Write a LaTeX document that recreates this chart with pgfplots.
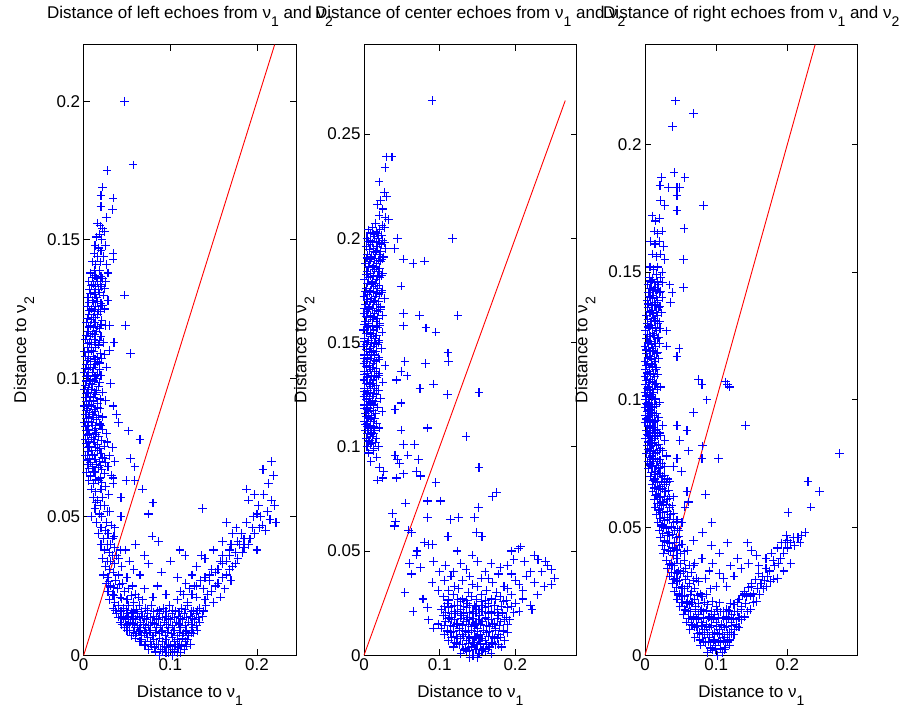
\documentclass[border=0pt]{standalone}
\usepackage{fontspec}
\setmainfont{Liberation Sans}
\usepackage{pgfplots}
\pgfplotsset{compat=1.18}
\definecolor{mblue}{RGB}{0,0,255}
\definecolor{mred}{RGB}{255,0,0}
\newcommand\sub[1]{\raisebox{-8pt}{\fontsize{14}{14}\selectfont #1}}
\newcommand\ff{\fontsize{17}{20}\selectfont}
\pgfplotsset{
  mat/.style={
    scale only axis, width=212.6pt, height=610.6pt, anchor=south west,
    xmin=0, ymin=0,
    axis line style={line width=0.9pt},
    tick style={black, line width=0.8pt},
    major tick length=6pt, tick align=inside,
    xtick={0,0.1,0.2}, xticklabels={0,0.1,0.2},
    ticklabel style={font=\ff},
    /pgf/number format/assume math mode=true,
    title style={at={(axis description cs:0.5,1.03275)}, anchor=base, font=\ff, inner sep=0pt},
    xlabel style={at={(axis description cs:0.5,-0.0688)}, anchor=base, font=\ff, inner sep=0pt},
    ylabel style={at={(axis description cs:-0.2714,0.5)}, anchor=base, font=\ff, inner sep=0pt},
    xlabel={Distance to ν\sub{1}}, ylabel={Distance to ν\sub{2}},
    clip=false,
  },
  pts/.style={only marks, mark=+, mark size=4.3pt, mblue, mark options={mblue, line width=1.1pt}},
  diag/.style={mred, line width=0.9pt, no marks},
}
\begin{document}
\begin{tikzpicture}
\useasboundingbox (0,0) rectangle (909pt,711pt);
% ---------------- left ----------------
\begin{axis}[mat, at={(83.7pt,55.7pt)}, xmax=0.2454, ymax=0.2204,
  ytick={0,0.05,0.1,0.15,0.2}, yticklabels={0,0.05,0.1,0.15,0.2},
  title={Distance of left echoes from ν\sub{1} and ν\sub{2}}]
\addplot[pts] coordinates {
(0.047,0.200)(0.057,0.177)(0.027,0.175)(0.022,0.169)(0.020,0.166)(0.034,0.165)(0.020,0.162)(0.033,0.161)(0.047,0.130)(0.048,0.119)(0.054,0.109)(0.030,0.119)(0.035,0.113)(0.034,0.145)(0.034,0.143)(0.026,0.158)
(0.016,0.156)(0.019,0.155)(0.022,0.154)(0.018,0.152)(0.015,0.151)(0.024,0.153)(0.021,0.150)(0.013,0.148)(0.017,0.147)(0.025,0.148)(0.012,0.145)(0.020,0.146)(0.016,0.144)(0.023,0.144)(0.010,0.142)(0.014,0.141)(0.019,0.142)(0.026,0.141)(0.028,0.138)(0.012,0.139)
(0.008,0.138)(0.013,0.137)(0.018,0.139)(0.022,0.136)
(0.006,0.135)(0.011,0.134)(0.016,0.135)(0.021,0.133)(0.025,0.135)
(0.007,0.132)(0.012,0.131)(0.017,0.132)(0.023,0.130)
(0.005,0.129)(0.010,0.128)(0.015,0.129)(0.020,0.127)(0.028,0.128)
(0.004,0.126)(0.009,0.125)(0.014,0.126)(0.019,0.124)(0.024,0.125)
(0.006,0.123)(0.011,0.122)(0.016,0.123)(0.021,0.121)
(0.003,0.120)(0.008,0.119)(0.013,0.120)(0.018,0.118)(0.025,0.119)
(0.005,0.117)(0.010,0.116)(0.015,0.117)(0.020,0.115)
(0.002,0.114)(0.007,0.113)(0.012,0.114)(0.017,0.112)(0.023,0.113)
(0.004,0.111)(0.009,0.110)(0.014,0.111)(0.019,0.109)(0.030,0.110)
(0.002,0.108)(0.006,0.107)(0.011,0.108)(0.016,0.106)(0.021,0.107)
(0.003,0.105)(0.008,0.104)(0.013,0.105)(0.018,0.103)(0.026,0.104)
(0.001,0.102)(0.005,0.101)(0.010,0.102)(0.015,0.100)(0.020,0.101)
(0.003,0.099)(0.007,0.098)(0.012,0.099)(0.017,0.097)(0.031,0.098)
(0.001,0.096)(0.005,0.095)(0.009,0.096)(0.014,0.094)(0.022,0.095)
(0.002,0.093)(0.007,0.092)(0.011,0.093)(0.016,0.091)(0.025,0.092)
(0.001,0.090)(0.004,0.089)(0.009,0.090)(0.013,0.088)(0.019,0.089)(0.034,0.090)
(0.002,0.087)(0.006,0.086)(0.010,0.087)(0.015,0.085)(0.022,0.086)(0.038,0.087)
(0.001,0.084)(0.004,0.083)(0.009,0.084)(0.014,0.082)(0.020,0.083)(0.040,0.084)
(0.003,0.081)(0.007,0.080)(0.012,0.081)(0.017,0.079)(0.026,0.080)
(0.002,0.078)(0.006,0.077)(0.011,0.078)(0.016,0.076)(0.027,0.077)(0.033,0.075)
(0.004,0.075)(0.009,0.074)(0.014,0.075)(0.020,0.073)(0.030,0.072)
(0.002,0.072)(0.007,0.071)(0.012,0.072)(0.018,0.070)(0.024,0.071)(0.036,0.070)
(0.005,0.069)(0.010,0.068)(0.015,0.069)(0.021,0.067)(0.028,0.068)
(0.003,0.066)(0.008,0.065)(0.013,0.066)(0.019,0.064)(0.032,0.065)
(0.006,0.063)(0.011,0.062)(0.017,0.063)(0.025,0.061)(0.034,0.062)
(0.009,0.060)(0.014,0.059)(0.020,0.060)(0.029,0.058)
(0.010,0.1365)(0.015,0.1362)(0.020,0.1368)
(0.009,0.1335)(0.014,0.1332)(0.019,0.1338)(0.024,0.1325)
(0.008,0.1305)(0.013,0.1302)(0.018,0.1308)
(0.006,0.1275)(0.011,0.1272)(0.016,0.1278)(0.022,0.1262)
(0.007,0.1245)(0.012,0.1242)(0.017,0.1248)
(0.004,0.1215)(0.009,0.1212)(0.014,0.1218)(0.020,0.1195)
(0.006,0.1185)(0.011,0.1182)(0.016,0.1188)
(0.003,0.1155)(0.008,0.1152)(0.013,0.1158)(0.018,0.1135)
(0.004,0.1125)(0.009,0.1122)(0.014,0.1128)
(0.001,0.1095)(0.006,0.1092)(0.011,0.1098)(0.016,0.1075)(0.024,0.1085)
(0.004,0.1065)(0.008,0.1062)(0.013,0.1068)(0.018,0.1055)
(0.002,0.1035)(0.006,0.1032)(0.011,0.1038)(0.016,0.1015)
(0.003,0.1005)(0.008,0.0995)(0.013,0.1008)(0.018,0.0985)
(0.002,0.0975)(0.006,0.0965)(0.010,0.0978)(0.015,0.0955)
(0.003,0.0945)(0.008,0.0935)(0.012,0.0948)(0.019,0.0925)
(0.003,0.0915)(0.006,0.0905)(0.011,0.0918)(0.016,0.0895)
(0.003,0.0885)(0.007,0.0875)(0.012,0.0888)(0.017,0.0865)
(0.003,0.0855)(0.006,0.0845)(0.011,0.0858)(0.018,0.0835)
(0.002,0.0825)(0.006,0.0815)(0.010,0.0828)(0.015,0.0805)(0.022,0.0815)
(0.004,0.0795)(0.009,0.0785)(0.014,0.0798)(0.021,0.0775)
(0.003,0.0765)(0.007,0.0755)(0.012,0.0768)(0.018,0.0745)(0.024,0.0755)
(0.005,0.0735)(0.010,0.0725)(0.016,0.0738)(0.022,0.0715)
(0.004,0.0705)(0.008,0.0695)(0.013,0.0708)(0.019,0.0685)(0.025,0.0695)
(0.006,0.0675)(0.011,0.0665)(0.017,0.0678)(0.024,0.0655)
(0.008,0.0645)(0.014,0.0635)(0.021,0.0625)
(0.052,0.081)(0.065,0.078)(0.038,0.087)(0.054,0.071)(0.059,0.068)(0.059,0.063)(0.049,0.063)(0.068,0.060)(0.034,0.064)(0.043,0.057)
(0.011,0.057)(0.016,0.056)(0.022,0.057)(0.013,0.053)(0.018,0.051)(0.009,0.050)(0.015,0.048)(0.024,0.054)(0.030,0.052)(0.020,0.046)(0.026,0.048)(0.017,0.044)(0.023,0.042)(0.028,0.044)(0.031,0.040)(0.036,0.046)(0.043,0.050)(0.080,0.055)(0.075,0.051)(0.079,0.043)(0.086,0.041)(0.111,0.038)(0.117,0.036)(0.136,0.036)(0.137,0.053)(0.042,0.038)(0.060,0.040)
(0.027,0.040)(0.033,0.042)(0.020,0.040)(0.025,0.045)(0.032,0.047)(0.021,0.050)(0.027,0.052)(0.019,0.054)(0.014,0.055)(0.035,0.043)(0.038,0.036)(0.031,0.034)(0.029,0.0265)(0.034,0.0245)(0.041,0.0255)(0.052,0.024)(0.035,0.0215)(0.044,0.0205)(0.055,0.0215)(0.063,0.021)
(0.207,0.067)(0.217,0.070)(0.219,0.065)(0.188,0.060)(0.197,0.058)(0.190,0.056)(0.217,0.056)(0.220,0.054)(0.215,0.049)(0.222,0.048)(0.200,0.051)(0.204,0.050)(0.206,0.047)(0.165,0.048)(0.172,0.044)(0.185,0.042)(0.192,0.042)(0.200,0.038)(0.210,0.045)(0.195,0.046)(0.180,0.040)(0.176,0.046)(0.160,0.041)(0.168,0.038)(0.212,0.052)
(0.160,0.036)(0.170,0.040)(0.182,0.044)(0.188,0.048)(0.196,0.050)(0.202,0.054)(0.208,0.058)(0.213,0.062)(0.178,0.041)(0.165,0.034)(0.155,0.031)(0.145,0.029)(0.135,0.027)(0.128,0.025)(0.122,0.024)(0.115,0.022)(0.143,0.022)(0.152,0.025)(0.160,0.028)(0.168,0.031)(0.175,0.033)(0.183,0.037)(0.190,0.040)(0.197,0.044)(0.203,0.046)
(0.024,0.038)(0.030,0.037)(0.036,0.039)(0.048,0.038)
(0.022,0.035)(0.027,0.034)(0.033,0.036)(0.040,0.035)(0.053,0.034)
(0.025,0.032)(0.030,0.031)(0.036,0.033)(0.044,0.032)(0.058,0.031)
(0.023,0.029)(0.028,0.028)(0.034,0.030)(0.040,0.029)(0.050,0.028)(0.065,0.029)
(0.026,0.026)(0.031,0.025)(0.037,0.027)(0.045,0.026)(0.056,0.025)
(0.028,0.023)(0.033,0.022)(0.039,0.024)(0.047,0.023)(0.060,0.022)(0.070,0.024)
(0.030,0.020)(0.036,0.019)(0.042,0.021)(0.050,0.020)(0.058,0.019)(0.068,0.020)
(0.150,0.038)(0.175,0.037)(0.185,0.039)
(0.140,0.035)(0.158,0.034)(0.168,0.036)(0.178,0.035)
(0.130,0.032)(0.148,0.031)(0.160,0.033)(0.172,0.032)
(0.125,0.029)(0.140,0.028)(0.152,0.030)(0.165,0.029)(0.170,0.027)
(0.118,0.026)(0.130,0.025)(0.145,0.027)(0.155,0.026)(0.163,0.024)
(0.112,0.023)(0.125,0.022)(0.138,0.024)(0.148,0.023)(0.158,0.021)
(0.108,0.020)(0.120,0.019)(0.130,0.021)(0.140,0.020)(0.150,0.019)
(0.075,0.033)(0.090,0.030)(0.100,0.034)(0.085,0.025)(0.095,0.022)(0.080,0.021)(0.108,0.028)(0.070,0.036)
(0.034,0.017)(0.040,0.018)(0.046,0.017)(0.052,0.018)(0.058,0.016)(0.064,0.018)(0.071,0.017)(0.078,0.018)(0.085,0.016)(0.092,0.017)(0.099,0.018)(0.106,0.016)(0.113,0.017)(0.120,0.018)(0.127,0.016)(0.134,0.017)(0.141,0.018)
(0.038,0.015)(0.044,0.014)(0.050,0.015)(0.056,0.014)(0.062,0.015)(0.068,0.014)(0.074,0.015)(0.081,0.014)(0.088,0.015)(0.095,0.014)(0.102,0.015)(0.109,0.014)(0.116,0.015)(0.123,0.014)(0.130,0.015)(0.137,0.014)
(0.042,0.012)(0.048,0.013)(0.054,0.012)(0.060,0.013)(0.066,0.012)(0.072,0.013)(0.079,0.012)(0.086,0.013)(0.093,0.012)(0.100,0.013)(0.107,0.012)(0.114,0.013)(0.121,0.012)(0.128,0.013)(0.134,0.012)
(0.047,0.010)(0.053,0.009)(0.059,0.010)(0.065,0.009)(0.071,0.010)(0.077,0.009)(0.084,0.010)(0.091,0.009)(0.098,0.010)(0.105,0.009)(0.112,0.010)(0.119,0.009)(0.126,0.010)(0.131,0.009)
(0.055,0.007)(0.061,0.008)(0.067,0.007)(0.073,0.008)(0.080,0.007)(0.087,0.008)(0.094,0.007)(0.101,0.008)(0.108,0.007)(0.115,0.008)(0.121,0.007)(0.127,0.008)
(0.065,0.005)(0.071,0.004)(0.077,0.005)(0.084,0.004)(0.091,0.005)(0.098,0.004)(0.105,0.005)(0.111,0.004)(0.117,0.005)(0.123,0.004)
(0.075,0.002)(0.082,0.003)(0.089,0.002)(0.096,0.003)(0.103,0.002)(0.109,0.003)(0.116,0.002)
(0.088,0.000)(0.095,0.001)(0.102,0.000)(0.108,0.001)
(0.037,0.0163)(0.043,0.0158)(0.049,0.0162)(0.055,0.0155)(0.061,0.0165)(0.067,0.0158)(0.074,0.0162)(0.081,0.0157)(0.088,0.0164)(0.095,0.0158)(0.102,0.0162)(0.110,0.0157)(0.117,0.0165)(0.124,0.0158)(0.131,0.0162)(0.138,0.0160)
(0.040,0.0138)(0.046,0.0133)(0.052,0.0137)(0.058,0.0132)(0.064,0.0138)(0.070,0.0132)(0.077,0.0137)(0.084,0.0133)(0.091,0.0138)(0.098,0.0132)(0.105,0.0137)(0.112,0.0133)(0.119,0.0138)(0.126,0.0132)(0.132,0.0137)
(0.044,0.0112)(0.050,0.0108)(0.056,0.0113)(0.062,0.0107)(0.069,0.0112)(0.075,0.0108)(0.082,0.0113)(0.089,0.0107)(0.096,0.0112)(0.103,0.0108)(0.110,0.0113)(0.117,0.0107)(0.124,0.0112)(0.130,0.0108)
(0.050,0.0088)(0.057,0.0083)(0.063,0.0087)(0.070,0.0082)(0.076,0.0088)(0.083,0.0082)(0.090,0.0087)(0.097,0.0083)(0.104,0.0088)(0.111,0.0082)(0.118,0.0087)(0.124,0.0083)
(0.060,0.0062)(0.067,0.0058)(0.074,0.0063)(0.081,0.0057)(0.088,0.0062)(0.095,0.0058)(0.102,0.0063)(0.108,0.0057)(0.114,0.0062)(0.120,0.0058)
(0.070,0.0037)(0.078,0.0033)(0.086,0.0038)(0.093,0.0032)(0.100,0.0037)(0.106,0.0033)(0.113,0.0037)(0.119,0.0033)
(0.083,0.0012)(0.091,0.0015)(0.098,0.0010)(0.105,0.0014)(0.112,0.0010)
};
\addplot[diag] coordinates {(0,0)(0.2204,0.2204)};
\end{axis}
% ---------------- center ----------------
\begin{axis}[mat, at={(364pt,55.7pt)}, xmax=0.281, ymax=0.2928,
  ytick={0,0.05,0.1,0.15,0.2,0.25}, yticklabels={0,0.05,0.1,0.15,0.2,0.25},
  title={Distance of center echoes from ν\sub{1} and ν\sub{2}}]
\addplot[pts] coordinates {
(0.090,0.266)(0.030,0.239)(0.037,0.239)(0.028,0.234)(0.020,0.227)(0.027,0.222)(0.030,0.220)(0.022,0.218)(0.018,0.216)(0.025,0.214)(0.020,0.211)(0.028,0.210)(0.032,0.209)(0.015,0.207)(0.024,0.206)
(0.006,0.204)(0.011,0.205)(0.016,0.203)(0.021,0.204)(0.027,0.205)
(0.004,0.200)(0.009,0.199)(0.014,0.201)(0.019,0.200)(0.025,0.199)
(0.003,0.196)(0.008,0.197)(0.013,0.195)(0.018,0.196)(0.023,0.197)(0.029,0.195)
(0.005,0.192)(0.010,0.191)(0.015,0.193)(0.020,0.192)(0.026,0.191)
(0.002,0.188)(0.007,0.189)(0.012,0.187)(0.017,0.188)(0.022,0.189)
(0.004,0.184)(0.009,0.183)(0.014,0.185)(0.019,0.184)(0.025,0.183)
(0.001,0.180)(0.006,0.181)(0.011,0.179)(0.016,0.180)(0.021,0.181)
(0.003,0.176)(0.008,0.175)(0.013,0.177)(0.018,0.176)(0.024,0.175)
(0.000,0.172)(0.005,0.173)(0.010,0.171)(0.015,0.172)(0.020,0.173)(0.027,0.171)
(0.002,0.168)(0.007,0.167)(0.012,0.169)(0.017,0.168)(0.022,0.167)
(0.000,0.164)(0.004,0.165)(0.009,0.163)(0.014,0.164)(0.019,0.165)(0.025,0.163)
(0.002,0.160)(0.006,0.159)(0.011,0.161)(0.016,0.160)(0.021,0.159)
(-0.001,0.156)(0.004,0.157)(0.008,0.155)(0.013,0.156)(0.018,0.157)(0.024,0.155)
(0.001,0.152)(0.006,0.151)(0.010,0.153)(0.015,0.152)(0.020,0.151)
(-0.001,0.148)(0.003,0.149)(0.008,0.147)(0.012,0.148)(0.017,0.149)(0.023,0.147)
(0.001,0.144)(0.005,0.143)(0.010,0.145)(0.014,0.144)(0.019,0.143)
(0.000,0.140)(0.003,0.141)(0.007,0.139)(0.012,0.140)(0.016,0.141)(0.028,0.139)
(0.001,0.136)(0.005,0.135)(0.009,0.137)(0.014,0.136)(0.020,0.135)
(0.000,0.132)(0.004,0.133)(0.008,0.131)(0.012,0.132)(0.017,0.133)(0.025,0.131)
(0.001,0.128)(0.005,0.127)(0.009,0.129)(0.014,0.128)(0.019,0.127)
(0.000,0.124)(0.003,0.125)(0.007,0.123)(0.011,0.124)(0.016,0.125)(0.022,0.123)
(0.001,0.120)(0.005,0.119)(0.009,0.121)(0.013,0.120)(0.018,0.119)
(0.002,0.116)(0.006,0.117)(0.010,0.115)(0.015,0.116)(0.024,0.117)
(0.001,0.112)(0.004,0.111)(0.008,0.113)(0.012,0.112)(0.017,0.111)
(0.002,0.108)(0.006,0.109)(0.010,0.107)(0.014,0.108)(0.020,0.109)
(0.003,0.104)(0.007,0.103)(0.011,0.105)(0.016,0.104)
(0.004,0.100)(0.008,0.101)(0.013,0.099)(0.019,0.100)
(0.006,0.097)(0.012,0.098)(0.017,0.095)(0.009,0.093)
(0.008,0.2025)(0.013,0.2018)(0.018,0.2022)(0.023,0.2015)
(0.006,0.1985)(0.011,0.1978)(0.016,0.1982)(0.021,0.1975)(0.027,0.1980)
(0.007,0.1945)(0.012,0.1938)(0.017,0.1942)(0.022,0.1935)
(0.004,0.1905)(0.009,0.1898)(0.014,0.1902)(0.019,0.1895)(0.024,0.1900)
(0.006,0.1865)(0.011,0.1858)(0.016,0.1862)(0.021,0.1855)
(0.003,0.1825)(0.008,0.1818)(0.013,0.1822)(0.018,0.1815)(0.023,0.1820)
(0.005,0.1785)(0.010,0.1778)(0.015,0.1782)(0.020,0.1775)
(0.002,0.1745)(0.007,0.1738)(0.012,0.1742)(0.017,0.1735)(0.023,0.1740)
(0.004,0.1705)(0.009,0.1698)(0.014,0.1702)(0.019,0.1695)
(0.001,0.1665)(0.006,0.1658)(0.011,0.1662)(0.016,0.1655)(0.022,0.1660)
(0.003,0.1625)(0.008,0.1618)(0.013,0.1622)(0.018,0.1615)
(0.001,0.1585)(0.006,0.1578)(0.011,0.1582)(0.016,0.1575)(0.021,0.1580)
(0.003,0.1545)(0.008,0.1538)(0.012,0.1542)(0.017,0.1535)
(0.001,0.1505)(0.005,0.1498)(0.010,0.1502)(0.014,0.1495)(0.019,0.1500)
(0.003,0.1465)(0.007,0.1458)(0.012,0.1462)(0.016,0.1455)
(0.001,0.1425)(0.005,0.1418)(0.009,0.1422)(0.014,0.1415)(0.020,0.1420)
(0.003,0.1385)(0.007,0.1378)(0.011,0.1382)(0.016,0.1375)
(0.001,0.1345)(0.005,0.1338)(0.010,0.1342)(0.014,0.1335)(0.019,0.1340)
(0.003,0.1305)(0.007,0.1298)(0.011,0.1302)(0.016,0.1295)
(0.001,0.1265)(0.005,0.1258)(0.009,0.1262)(0.013,0.1255)
(0.003,0.1225)(0.007,0.1218)(0.011,0.1222)(0.015,0.1215)
(0.001,0.1185)(0.004,0.1178)(0.008,0.1182)(0.012,0.1175)
(0.003,0.1145)(0.006,0.1138)(0.010,0.1142)(0.014,0.1135)
(0.002,0.1105)(0.005,0.1098)(0.009,0.1102)(0.013,0.1095)
(0.005,0.1065)(0.009,0.1058)(0.013,0.1062)
(0.006,0.1025)(0.010,0.1018)(0.015,0.1022)
(0.044,0.200)(0.040,0.195)(0.052,0.190)(0.065,0.188)(0.080,0.189)(0.117,0.200)(0.049,0.177)(0.052,0.164)(0.073,0.163)(0.124,0.163)(0.052,0.158)(0.082,0.157)(0.095,0.155)(0.111,0.145)(0.112,0.141)(0.081,0.140)(0.054,0.141)(0.049,0.136)(0.057,0.134)(0.043,0.132)(0.092,0.130)(0.074,0.128)(0.110,0.125)(0.152,0.126)(0.049,0.121)(0.041,0.118)(0.084,0.109)(0.135,0.105)(0.049,0.108)(0.067,0.101)(0.052,0.101)(0.058,0.096)(0.072,0.094)(0.041,0.096)(0.044,0.094)(0.047,0.092)(0.069,0.088)(0.075,0.086)(0.052,0.087)(0.043,0.085)(0.020,0.090)(0.026,0.088)(0.018,0.084)(0.025,0.085)(0.152,0.090)(0.095,0.083)(0.055,0.073)(0.084,0.074)(0.101,0.074)(0.151,0.071)(0.170,0.076)(0.175,0.078)(0.038,0.068)(0.042,0.064)(0.084,0.066)(0.114,0.065)(0.125,0.066)(0.146,0.066)(0.040,0.062)(0.059,0.060)(0.063,0.059)(0.149,0.059)(0.156,0.057)(0.111,0.057)(0.070,0.050)(0.069,0.048)(0.080,0.054)(0.085,0.053)(0.091,0.053)(0.123,0.050)(0.143,0.048)(0.195,0.050)(0.204,0.051)(0.207,0.052)(0.225,0.048)
(0.063,0.039)(0.054,0.030)(0.065,0.021)(0.084,0.023)(0.060,0.044)(0.075,0.042)(0.092,0.045)(0.100,0.040)(0.108,0.043)(0.115,0.038)(0.128,0.044)(0.135,0.041)(0.150,0.045)(0.160,0.040)(0.168,0.044)(0.178,0.039)(0.190,0.043)(0.198,0.046)(0.212,0.045)(0.220,0.040)(0.230,0.046)(0.240,0.045)(0.248,0.041)(0.248,0.034)(0.252,0.037)(0.229,0.029)(0.220,0.024)(0.222,0.022)(0.238,0.033)(0.090,0.035)(0.098,0.031)(0.106,0.036)(0.120,0.033)(0.130,0.036)(0.143,0.034)(0.155,0.037)(0.170,0.035)(0.185,0.033)(0.200,0.036)(0.210,0.031)(0.085,0.017)(0.092,0.013)(0.098,0.015)(0.078,0.027)
(0.112,0.031)(0.125,0.032)(0.138,0.030)(0.150,0.033)(0.162,0.031)(0.175,0.030)(0.190,0.032)(0.205,0.034)(0.215,0.038)(0.225,0.035)(0.235,0.040)(0.242,0.043)(0.118,0.040)(0.140,0.038)(0.165,0.037)(0.180,0.042)(0.195,0.039)
(0.105,0.028)(0.118,0.029)(0.130,0.027)(0.142,0.028)(0.155,0.029)(0.168,0.027)(0.180,0.028)(0.195,0.029)(0.210,0.027)
(0.110,0.025)(0.120,0.024)(0.128,0.026)(0.137,0.025)(0.146,0.024)(0.155,0.026)(0.164,0.025)(0.173,0.024)(0.184,0.026)(0.200,0.025)
(0.102,0.022)(0.112,0.023)(0.120,0.021)(0.128,0.022)(0.136,0.023)(0.144,0.021)(0.152,0.022)(0.160,0.023)(0.168,0.021)(0.177,0.022)(0.190,0.023)(0.205,0.021)
(0.105,0.019)(0.113,0.018)(0.121,0.020)(0.129,0.019)(0.137,0.018)(0.145,0.020)(0.153,0.019)(0.161,0.018)(0.169,0.020)(0.178,0.019)(0.188,0.018)
(0.108,0.016)(0.116,0.017)(0.124,0.015)(0.132,0.016)(0.140,0.017)(0.148,0.015)(0.156,0.016)(0.164,0.017)(0.172,0.015)(0.181,0.016)(0.192,0.017)
(0.102,0.013)(0.110,0.012)(0.118,0.014)(0.126,0.013)(0.134,0.012)(0.142,0.014)(0.150,0.013)(0.158,0.012)(0.166,0.014)(0.174,0.013)(0.184,0.012)
(0.106,0.010)(0.114,0.011)(0.122,0.009)(0.130,0.010)(0.138,0.011)(0.146,0.009)(0.154,0.010)(0.162,0.011)(0.170,0.009)(0.178,0.010)(0.190,0.011)
(0.112,0.007)(0.120,0.006)(0.128,0.008)(0.136,0.007)(0.144,0.006)(0.152,0.008)(0.160,0.007)(0.168,0.006)(0.176,0.008)(0.186,0.007)
(0.118,0.004)(0.126,0.005)(0.134,0.003)(0.142,0.004)(0.150,0.005)(0.158,0.003)(0.166,0.004)(0.174,0.005)(0.182,0.004)
(0.128,0.001)(0.136,0.002)(0.144,0.000)(0.152,0.001)(0.160,0.002)(0.168,0.001)
(0.140,-0.001)(0.150,-0.001)
(0.112,0.0265)(0.124,0.0268)(0.136,0.0262)(0.149,0.0267)(0.161,0.0263)(0.174,0.0268)(0.188,0.0262)
(0.106,0.0235)(0.116,0.0232)(0.124,0.0238)(0.132,0.0233)(0.140,0.0237)(0.148,0.0232)(0.156,0.0238)(0.164,0.0233)(0.172,0.0237)(0.182,0.0233)(0.195,0.0236)
(0.108,0.0205)(0.116,0.0202)(0.124,0.0208)(0.132,0.0203)(0.140,0.0207)(0.148,0.0202)(0.156,0.0208)(0.164,0.0203)(0.173,0.0207)(0.183,0.0203)(0.198,0.0205)
(0.112,0.0175)(0.120,0.0172)(0.128,0.0178)(0.136,0.0173)(0.144,0.0177)(0.152,0.0172)(0.160,0.0178)(0.168,0.0173)(0.176,0.0177)(0.186,0.0173)
(0.106,0.0145)(0.114,0.0142)(0.122,0.0148)(0.130,0.0143)(0.138,0.0147)(0.146,0.0142)(0.154,0.0148)(0.162,0.0143)(0.170,0.0147)(0.179,0.0143)(0.190,0.0146)
(0.110,0.0115)(0.118,0.0112)(0.126,0.0118)(0.134,0.0113)(0.142,0.0117)(0.150,0.0112)(0.158,0.0118)(0.166,0.0113)(0.174,0.0117)(0.184,0.0113)
(0.116,0.0085)(0.124,0.0082)(0.132,0.0088)(0.140,0.0083)(0.148,0.0087)(0.156,0.0082)(0.164,0.0088)(0.172,0.0083)(0.181,0.0087)
(0.122,0.0055)(0.130,0.0052)(0.138,0.0058)(0.146,0.0053)(0.154,0.0057)(0.162,0.0052)(0.170,0.0058)(0.178,0.0053)
(0.132,0.0025)(0.140,0.0022)(0.148,0.0028)(0.156,0.0023)(0.164,0.0027)
};
\addplot[diag] coordinates {(0,0)(0.266,0.266)};
\end{axis}
% ---------------- right ----------------
\begin{axis}[mat, at={(645pt,55.7pt)}, xmax=0.2987, ymax=0.2390,
  ytick={0,0.05,0.1,0.15,0.2}, yticklabels={0,0.05,0.1,0.15,0.2},
  title={Distance of right echoes from ν\sub{1} and ν\sub{2}}]
\addplot[pts] coordinates {
(0.043,0.217)(0.068,0.212)(0.039,0.207)(0.041,0.189)(0.056,0.187)(0.023,0.187)(0.021,0.184)(0.033,0.183)(0.045,0.183)(0.049,0.183)(0.045,0.180)(0.022,0.178)(0.028,0.176)(0.082,0.176)(0.045,0.174)(0.055,0.167)(0.054,0.155)(0.054,0.144)(0.038,0.142)(0.035,0.145)(0.036,0.138)(0.048,0.120)(0.045,0.117)(0.030,0.127)(0.030,0.121)(0.075,0.108)(0.080,0.106)(0.113,0.107)(0.119,0.105)(0.116,0.106)(0.087,0.100)(0.068,0.095)(0.141,0.090)(0.045,0.090)(0.059,0.088)(0.049,0.084)(0.061,0.080)(0.081,0.082)(0.080,0.077)(0.103,0.077)(0.273,0.079)(0.045,0.077)(0.040,0.074)(0.051,0.072)(0.229,0.068)(0.245,0.064)(0.233,0.058)(0.201,0.056)(0.085,0.063)(0.059,0.064)(0.061,0.060)(0.056,0.058)(0.094,0.052)(0.045,0.053)(0.048,0.049)(0.052,0.052)(0.068,0.045)(0.081,0.048)(0.093,0.043)(0.116,0.044)(0.144,0.044)(0.199,0.047)(0.205,0.044)(0.220,0.047)(0.225,0.048)(0.197,0.044)(0.200,0.042)(0.105,0.040)(0.157,0.039)
(0.010,0.172)(0.015,0.170)(0.020,0.171)(0.013,0.166)(0.018,0.165)(0.024,0.166)(0.008,0.162)(0.014,0.161)(0.020,0.162)(0.026,0.160)(0.010,0.157)(0.016,0.156)(0.022,0.157)(0.028,0.155)(0.007,0.152)(0.012,0.151)(0.018,0.152)(0.024,0.150)
(0.006,0.148)(0.011,0.147)(0.016,0.149)(0.022,0.148)
(0.004,0.145)(0.009,0.146)(0.014,0.144)(0.019,0.145)(0.025,0.146)
(0.005,0.142)(0.010,0.141)(0.015,0.143)(0.020,0.142)
(0.003,0.139)(0.008,0.140)(0.013,0.138)(0.018,0.139)(0.024,0.140)
(0.004,0.136)(0.009,0.135)(0.014,0.137)(0.019,0.136)
(0.002,0.133)(0.007,0.134)(0.012,0.132)(0.017,0.133)(0.023,0.134)
(0.003,0.130)(0.008,0.129)(0.013,0.131)(0.018,0.130)
(0.001,0.127)(0.006,0.128)(0.011,0.126)(0.016,0.127)(0.021,0.128)
(0.002,0.124)(0.007,0.123)(0.012,0.125)(0.017,0.124)
(0.000,0.121)(0.005,0.122)(0.010,0.120)(0.015,0.121)(0.020,0.122)
(0.002,0.118)(0.007,0.117)(0.011,0.119)(0.016,0.118)
(0.000,0.115)(0.004,0.116)(0.009,0.114)(0.014,0.115)(0.019,0.116)
(0.001,0.112)(0.006,0.111)(0.010,0.113)(0.015,0.112)
(0.000,0.109)(0.004,0.110)(0.008,0.108)(0.013,0.109)(0.018,0.110)
(0.001,0.106)(0.005,0.105)(0.010,0.107)(0.014,0.106)(0.022,0.105)
(0.000,0.103)(0.004,0.104)(0.008,0.102)(0.012,0.103)(0.017,0.104)
(0.001,0.100)(0.005,0.099)(0.009,0.101)(0.014,0.100)(0.020,0.099)
(0.000,0.097)(0.003,0.098)(0.007,0.096)(0.011,0.097)(0.016,0.098)
(0.001,0.094)(0.005,0.093)(0.009,0.095)(0.013,0.094)(0.019,0.093)
(0.000,0.091)(0.004,0.092)(0.008,0.090)(0.012,0.091)(0.017,0.092)(0.025,0.090)
(0.002,0.088)(0.006,0.087)(0.010,0.089)(0.014,0.088)(0.020,0.087)
(0.001,0.085)(0.005,0.086)(0.009,0.084)(0.013,0.085)(0.018,0.086)(0.028,0.084)
(0.003,0.082)(0.007,0.081)(0.011,0.083)(0.016,0.082)(0.022,0.081)
(0.002,0.079)(0.006,0.080)(0.010,0.078)(0.015,0.079)(0.020,0.080)(0.030,0.078)
(0.004,0.076)(0.008,0.075)(0.012,0.077)(0.017,0.076)(0.024,0.075)
(0.005,0.073)(0.009,0.074)(0.014,0.072)(0.019,0.073)(0.027,0.074)
(0.008,0.1465)(0.013,0.1458)(0.018,0.1462)
(0.007,0.1435)(0.012,0.1428)(0.017,0.1432)(0.022,0.1425)
(0.006,0.1405)(0.011,0.1398)(0.016,0.1402)
(0.005,0.1375)(0.010,0.1368)(0.015,0.1372)(0.021,0.1365)
(0.006,0.1345)(0.011,0.1338)(0.016,0.1342)
(0.004,0.1315)(0.009,0.1308)(0.014,0.1312)(0.020,0.1305)
(0.005,0.1285)(0.010,0.1278)(0.015,0.1282)
(0.003,0.1255)(0.008,0.1248)(0.013,0.1252)(0.019,0.1245)
(0.004,0.1225)(0.009,0.1218)(0.014,0.1222)
(0.002,0.1195)(0.007,0.1188)(0.012,0.1192)(0.018,0.1185)
(0.004,0.1165)(0.009,0.1158)(0.013,0.1162)
(0.002,0.1135)(0.006,0.1128)(0.011,0.1132)(0.016,0.1125)
(0.003,0.1105)(0.008,0.1098)(0.012,0.1102)
(0.002,0.1075)(0.006,0.1068)(0.011,0.1072)(0.016,0.1065)
(0.003,0.1045)(0.007,0.1038)(0.011,0.1042)
(0.002,0.1015)(0.006,0.1008)(0.010,0.1012)(0.015,0.1005)
(0.002,0.0985)(0.005,0.0978)(0.009,0.0982)(0.013,0.0975)
(0.003,0.0955)(0.007,0.0948)(0.011,0.0952)(0.016,0.0945)
(0.002,0.0925)(0.006,0.0918)(0.010,0.0922)(0.014,0.0915)
(0.004,0.0895)(0.008,0.0888)(0.012,0.0892)(0.017,0.0885)
(0.003,0.0865)(0.007,0.0858)(0.011,0.0862)(0.015,0.0855)(0.022,0.0860)
(0.005,0.0835)(0.009,0.0828)(0.013,0.0832)(0.019,0.0825)
(0.004,0.0805)(0.008,0.0798)(0.012,0.0802)(0.017,0.0795)(0.025,0.0800)
(0.006,0.0775)(0.010,0.0768)(0.015,0.0772)(0.021,0.0765)
(0.007,0.0745)(0.011,0.0738)(0.016,0.0742)(0.022,0.0735)
(0.009,0.0715)(0.015,0.0708)(0.021,0.0712)(0.028,0.0705)
(0.012,0.0685)(0.017,0.0678)(0.023,0.0682)(0.030,0.0675)
(0.013,0.0655)(0.019,0.0648)(0.025,0.0652)(0.033,0.0645)
(0.015,0.0625)(0.021,0.0618)(0.027,0.0622)(0.035,0.0615)
(0.017,0.0595)(0.023,0.0588)(0.030,0.0592)(0.038,0.0585)
(0.019,0.0565)(0.025,0.0558)(0.032,0.0562)(0.040,0.0555)
(0.021,0.0535)(0.027,0.0528)(0.035,0.0532)(0.044,0.0525)
(0.023,0.0505)(0.030,0.0498)(0.037,0.0502)(0.046,0.0495)
(0.025,0.0475)(0.032,0.0468)(0.039,0.0472)(0.048,0.0465)
(0.028,0.0445)(0.035,0.0438)(0.042,0.0442)(0.052,0.0435)
(0.028,0.0415)(0.036,0.0408)(0.045,0.0412)(0.055,0.0405)
(0.008,0.070)(0.013,0.069)(0.018,0.071)(0.024,0.070)(0.032,0.069)
(0.010,0.067)(0.015,0.068)(0.020,0.066)(0.027,0.067)(0.035,0.068)
(0.011,0.064)(0.016,0.063)(0.022,0.065)(0.029,0.064)
(0.013,0.061)(0.018,0.062)(0.024,0.060)(0.031,0.061)(0.040,0.062)
(0.014,0.058)(0.020,0.057)(0.026,0.059)(0.034,0.058)
(0.016,0.055)(0.022,0.056)(0.028,0.054)(0.036,0.055)
(0.018,0.052)(0.024,0.051)(0.031,0.053)(0.040,0.052)
(0.020,0.049)(0.026,0.050)(0.033,0.048)(0.042,0.049)
(0.022,0.046)(0.028,0.045)(0.035,0.047)(0.044,0.046)
(0.024,0.043)(0.031,0.044)(0.038,0.042)(0.048,0.043)
(0.026,0.040)(0.033,0.041)(0.040,0.039)(0.050,0.040)(0.060,0.041)
(0.030,0.037)(0.037,0.036)(0.045,0.038)(0.055,0.037)(0.070,0.036)(0.180,0.037)(0.190,0.038)(0.205,0.036)
(0.032,0.034)(0.039,0.035)(0.047,0.033)(0.057,0.034)(0.068,0.035)(0.090,0.033)(0.170,0.034)(0.182,0.035)(0.195,0.033)
(0.035,0.031)(0.042,0.030)(0.050,0.032)(0.060,0.031)(0.072,0.030)(0.160,0.032)(0.172,0.031)(0.186,0.030)
(0.038,0.028)(0.045,0.029)(0.053,0.027)(0.062,0.028)(0.075,0.029)(0.150,0.027)(0.163,0.028)(0.176,0.029)
(0.041,0.025)(0.048,0.024)(0.056,0.026)(0.065,0.025)(0.078,0.024)(0.092,0.026)(0.140,0.025)(0.152,0.024)(0.166,0.026)
(0.045,0.022)(0.052,0.023)(0.060,0.021)(0.069,0.022)(0.080,0.023)(0.095,0.021)(0.132,0.022)(0.143,0.023)(0.157,0.021)
(0.049,0.019)(0.056,0.018)(0.063,0.020)(0.071,0.019)(0.079,0.018)(0.088,0.020)(0.100,0.019)(0.115,0.018)(0.125,0.020)(0.135,0.019)(0.148,0.018)
(0.054,0.016)(0.061,0.017)(0.068,0.015)(0.075,0.016)(0.082,0.017)(0.090,0.015)(0.098,0.016)(0.106,0.017)(0.114,0.015)(0.122,0.016)(0.130,0.017)(0.140,0.015)
(0.058,0.013)(0.065,0.012)(0.072,0.014)(0.079,0.013)(0.086,0.012)(0.093,0.014)(0.100,0.013)(0.107,0.012)(0.114,0.014)(0.121,0.013)(0.128,0.012)(0.136,0.014)
(0.063,0.010)(0.070,0.011)(0.077,0.009)(0.084,0.010)(0.091,0.011)(0.098,0.009)(0.105,0.010)(0.112,0.011)(0.119,0.009)(0.126,0.010)(0.132,0.011)
(0.070,0.007)(0.077,0.006)(0.084,0.008)(0.091,0.007)(0.098,0.006)(0.105,0.008)(0.112,0.007)(0.119,0.006)(0.125,0.008)
(0.078,0.004)(0.085,0.005)(0.092,0.003)(0.099,0.004)(0.106,0.005)(0.113,0.003)(0.119,0.004)
(0.088,0.001)(0.095,0.002)(0.102,0.000)(0.109,0.001)
(0.110,0.030)(0.120,0.035)(0.100,0.027)(0.130,0.038)
(0.034,0.0355)(0.041,0.0352)(0.050,0.0358)(0.062,0.0353)
(0.037,0.0325)(0.045,0.0322)(0.054,0.0328)(0.065,0.0323)
(0.040,0.0295)(0.048,0.0292)(0.057,0.0298)(0.068,0.0293)(0.155,0.0295)(0.168,0.0292)(0.181,0.0298)
(0.044,0.0265)(0.052,0.0262)(0.060,0.0268)(0.070,0.0263)(0.145,0.0265)(0.158,0.0262)(0.171,0.0268)
(0.048,0.0235)(0.056,0.0232)(0.064,0.0238)(0.074,0.0233)(0.086,0.0237)(0.137,0.0235)(0.148,0.0232)(0.161,0.0238)
(0.052,0.0205)(0.059,0.0202)(0.066,0.0208)(0.075,0.0203)(0.084,0.0207)(0.105,0.0205)(0.120,0.0202)(0.130,0.0208)(0.141,0.0203)(0.152,0.0207)
(0.057,0.0175)(0.064,0.0172)(0.071,0.0178)(0.078,0.0173)(0.086,0.0177)(0.094,0.0172)(0.102,0.0178)(0.110,0.0173)(0.118,0.0177)(0.126,0.0172)(0.135,0.0178)(0.144,0.0173)
(0.061,0.0145)(0.068,0.0142)(0.075,0.0148)(0.082,0.0143)(0.089,0.0147)(0.096,0.0142)(0.103,0.0148)(0.110,0.0143)(0.117,0.0147)(0.124,0.0142)(0.132,0.0148)
(0.066,0.0115)(0.073,0.0112)(0.080,0.0118)(0.087,0.0113)(0.094,0.0117)(0.101,0.0112)(0.108,0.0118)(0.115,0.0113)(0.122,0.0117)(0.129,0.0112)
(0.074,0.0085)(0.081,0.0082)(0.088,0.0088)(0.095,0.0083)(0.102,0.0087)(0.109,0.0082)(0.116,0.0088)(0.122,0.0083)
(0.082,0.0055)(0.089,0.0052)(0.096,0.0058)(0.103,0.0053)(0.110,0.0057)(0.116,0.0052)
(0.092,0.0025)(0.099,0.0022)(0.106,0.0028)(0.112,0.0023)
(0.160,0.035)(0.170,0.038)(0.178,0.040)(0.186,0.042)(0.192,0.044)(0.200,0.045)(0.208,0.046)(0.215,0.046)(0.210,0.043)(0.188,0.036)(0.175,0.033)(0.165,0.031)(0.150,0.028)(0.140,0.024)(0.195,0.040)(0.218,0.044)
(0.085,0.030)(0.095,0.036)(0.105,0.032)(0.115,0.027)(0.125,0.031)(0.135,0.034)(0.145,0.036)(0.150,0.041)(0.080,0.038)
};
\addplot[diag] coordinates {(0,0)(0.239,0.239)};
\end{axis}
\end{tikzpicture}
\end{document}
